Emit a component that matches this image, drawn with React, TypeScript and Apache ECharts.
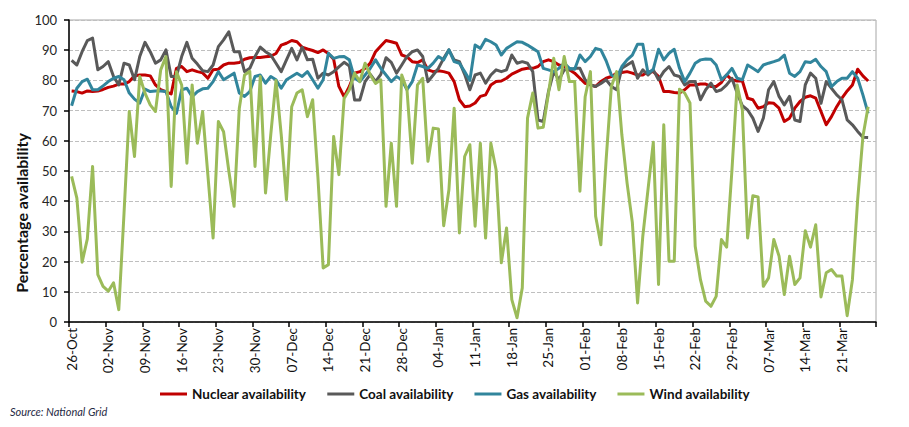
import React, { useEffect, useRef } from "react";
import * as echarts from "echarts";

const START_DATE = "2015-10-26";
const DAY_COUNT = 154;
const MONTHS = ["Jan", "Feb", "Mar", "Apr", "May", "Jun", "Jul", "Aug", "Sep", "Oct", "Nov", "Dec"];

const nuclear = [
  76.5, 76.3, 75.8, 76.5, 76.3, 76.5, 77, 77.7, 78.1, 78.8, 78.8, 79.6, 81.5, 81.8, 81.8, 81.5, 78.5, 76.9, 76.3, 75.5,
  84, 84.6, 82.9, 83.5, 82.9, 82.5, 80.7, 83.5, 83.7, 85.1, 85.7, 85.7, 85.9, 87, 87.5, 87.6, 87.6, 87.8, 88, 88.9,
  91.7, 92.3, 93.2, 92.8, 91, 90.4, 89.9, 89.2, 90.1, 88.9, 87, 78, 74.6, 78, 82.4, 82.9, 84, 85.7, 89.5, 91.4,
  93.2, 92.8, 92.3, 88.4, 87.8, 86.2, 85.9, 86.8, 83.5, 82.9, 83.2, 82.9, 82.4, 79.6, 73.6, 71.3, 71.5, 72.5, 74.7, 75.2,
  78.5, 79.6, 79.8, 80.7, 82.1, 82.9, 83.7, 84, 84, 84.6, 86.2, 86.8, 86.2, 85.1, 84.6, 83.5, 82.4, 80.7, 79, 78.5,
  78, 79.6, 80.7, 81.3, 82.4, 82.6, 82.9, 82.4, 81.8, 81.8, 82.9, 82.9, 81.3, 76.3, 76.3, 76, 75.8, 76.9, 78.5, 78.5,
  78.8, 78.8, 78, 78, 79.3, 81.8, 80.2, 79.8, 79.8, 74.1, 73.6, 70.8, 71.3, 72.6, 72.4, 70.8, 66.4, 67.5, 70.8, 73,
  74.4, 74.9, 74.1, 69.7, 65.3, 68, 71.3, 74.1, 76.5, 78.5, 83.7, 81.5, 79.8, null,
];

const coal = [
  86.6, 85.1, 89.5, 93.2, 94, 83.5, 84.6, 86.2, 81.3, 78.5, 85.7, 85.1, 80.2, 87.9, 92.6, 89.5, 85.7, 86.8, 90.1, 81.3,
  81.3, 87.9, 92.6, 87.3, 85.4, 83.2, 82.9, 85.1, 91.2, 93.4, 96.1, 89.5, 89.5, 82.9, 84, 87.9, 91, 89.5, 88.4, 85.7,
  82.9, 86.8, 90.6, 86.8, 91, 86.8, 87, 80.7, 82.4, 81.8, 82.9, 84.5, 86, 84.8, 73.5, 73.5, 79.6, 82, 79.6, 82,
  87.5, 86, 82.4, 85.1, 87.9, 89.5, 90.1, 87.9, 79.6, 81.8, 84, 87.3, 90.1, 86.8, 86.2, 82, 76.9, 81.8, 82.4, 79.1,
  81.8, 83.5, 82.9, 83.5, 88.4, 85.7, 86.2, 85.7, 82.9, 66.9, 66.4, 76.3, 82.9, 80.2, 83.5, 83.5, 84, 84, 80.2, 78.5,
  78, 79, 80.2, 78, 76.9, 84, 85.1, 86.2, 80.7, 83.5, 81.8, 83.5, 80.2, 82.9, 84.6, 81.8, 81.3, 78.5, 79.6, 79.6,
  73.6, 76.9, 79.1, 76.3, 76.9, 78.5, 80.7, 75.8, 71.6, 70.2, 67.5, 63.1, 67.5, 76.9, 79.6, 74.7, 71.9, 74.7, 66.9, 66.4,
  78.5, 82.4, 80.7, 72.4, 79.6, 77.4, 75.2, 73.6, 66.9, 65.3, 63.1, 61.2, 61.1, null,
];

const gas = [
  71.6, 77.4, 79.6, 80.4, 76.9, 76.9, 78.2, 79.6, 80.7, 81.3, 80.2, 75.8, 73.8, 72.5, 77.1, 76.3, 76.5, 76.5, 76.3, 71.3,
  69.1, 76.9, 77.4, 74.6, 76.3, 77.2, 77.4, 79.6, 82.9, 80.2, 81.3, 82.4, 75.8, 74.7, 76.3, 81.3, 81.8, 79.1, 81.3, 80.2,
  77.4, 80.2, 81.3, 82.4, 81.3, 82.9, 80.2, 77.4, 80.2, 89, 87.3, 87.8, 87.9, 86.8, 80.7, 79.6, 81.8, 84, 86.8, 84,
  81.8, 79.6, 81.3, 80.2, 76.9, 79.6, 85.1, 84.6, 84, 85.7, 87.9, 86.8, 90.1, 86.2, 85.7, 82.9, 80, 91.7, 90.6, 93.6,
  92.8, 91.7, 88.4, 90.6, 91.7, 92.8, 92.6, 91.7, 90.6, 89.5, 84, 83.5, 82.9, 84, 85.7, 84, 83.7, 88.4, 86.2, 87.9,
  90.6, 90.1, 86.5, 81.8, 80.7, 84.6, 86.8, 88.4, 92, 92, 82.4, 83.7, 90.3, 86.8, 89, 90.3, 84, 79.6, 82.4, 85.7,
  86.8, 87.1, 87, 85.1, 80.2, 81.8, 84, 80.7, 80.2, 85.1, 84, 82.9, 85.1, 85.7, 86.2, 86.8, 88.4, 82.4, 81.3, 82.9,
  86.2, 85.9, 87, 84.6, 82.9, 77.9, 79.6, 80.7, 80.7, 82.9, 80.7, 75.2, 69.1, null,
];

const wind = [
  48.2, 41, 19.8, 27.5, 51.5, 15.7, 11.8, 10.2, 13, 4.1, 36, 69.7, 54.8, 81.3, 75.8, 71.9, 69.7, 83.5, 87.9, 44.9,
  82.9, 78.5, 52.6, 78.5, 59.2, 69.7, 48.7, 27.8, 66.4, 63, 50, 38.3, 70.8, 81.8, 83, 51.5, 81.3, 42.7, 62, 80,
  62, 40.5, 71.3, 75.8, 76.9, 68, 73.6, 48, 17.9, 19, 61.4, 48.8, 74, 76.9, 82.4, 79.6, 85.7, 81.8, 79, 80.2,
  38.3, 59.2, 38.3, 81.8, 76.9, 52.6, 78.5, 80.7, 53.2, 64.2, 63.9, 31.9, 43.8, 70.8, 29.5, 54.8, 58.7, 31.7, 59.2, 27.8,
  59.2, 50.4, 19.6, 31.1, 7.4, 1.4, 11.3, 67.5, 75.8, 64.2, 64.5, 75.8, 87.3, 76.9, 87.9, 79.6, 79.6, 43.3, 74.6, 82.9,
  35, 25.6, 53.7, 78, 82.9, 62, 46, 33, 6.3, 28.4, 44, 59.5, 12.4, 65.3, 20.1, 20.1, 77.1, 75.8, 72.5, 25.1,
  14, 6.9, 5.2, 8.5, 27.3, 24.8, 50, 78.5, 70.2, 27.8, 41.8, 41.4, 11.8, 14.6, 27.3, 21.8, 9.1, 21.8, 12.4, 14.6,
  30.2, 24.8, 32.2, 8.3, 16.3, 17.4, 15.2, 15.2, 2.1, 14, 40.5, 61.4, 71.3, null,
];

const SERIES_NAMES = ["Nuclear availability", "Coal availability", "Gas availability", "Wind availability"];
const SERIES_COLORS = ["#C00000", "#595959", "#31859C", "#9BBB59"];
const Y_TITLE = "Percentage availability";
const SOURCE = "Source: National Grid";

function buildDates(): string[] {
  const out: string[] = [];
  const d = new Date(START_DATE + "T12:00:00Z");
  for (let i = 0; i < DAY_COUNT; i++) {
    const dd = String(d.getUTCDate()).padStart(2, "0");
    out.push(dd + "-" + MONTHS[d.getUTCMonth()]);
    d.setUTCDate(d.getUTCDate() + 1);
  }
  return out;
}

const FONT = "Lato, 'Open Sans', sans-serif";

export default function App() {
  const ref = useRef<HTMLDivElement>(null);
  useEffect(() => {
    if (!ref.current) return;
    const chart = echarts.init(ref.current, undefined, { renderer: "svg" });
    const dates = buildDates();
    const dataSets = [nuclear, coal, gas, wind];
    chart.setOption({
      animation: false,
      backgroundColor: "#ffffff",
      textStyle: { fontFamily: FONT },
      grid: {
        left: 69,
        right: 33,
        top: 20,
        bottom: 105,
        show: true,
        borderColor: "#A6A6A6",
        borderWidth: 1,
        containLabel: false,
      },
      legend: {
        left: 155,
        top: 382,
        itemWidth: 27,
        itemHeight: 3,
        itemGap: 21,
        icon: "rect",
        textStyle: { fontFamily: FONT, fontWeight: "bold", fontSize: 13.5, color: "#111" },
        data: SERIES_NAMES,
      },
      xAxis: {
        type: "category",
        data: dates,
        boundaryGap: true,
        axisLine: { show: true, lineStyle: { color: "#000", width: 1.5 } },
        axisTick: {
          show: true,
          length: 5,
          interval: (idx: number) => idx % 7 === 0,
          lineStyle: { color: "#000", width: 1.5 },
        },
        axisLabel: {
          interval: (idx: number) => idx % 7 === 0,
          rotate: 90,
          margin: 6,
          fontSize: 13.5,
          color: "#111",
          fontFamily: FONT,
        },
        splitLine: { show: false },
      },
      yAxis: {
        type: "value",
        min: 0,
        max: 100,
        interval: 10,
        axisLine: { show: true, lineStyle: { color: "#000", width: 1.5 } },
        axisTick: { show: true, length: 5, inside: false, lineStyle: { color: "#000", width: 1.5 } },
        axisLabel: { fontSize: 13, color: "#262626", margin: 12, fontFamily: FONT },
        splitLine: { show: true, lineStyle: { color: "#BFBFBF", type: "dashed", width: 1 } },
      },
      series: SERIES_NAMES.map((name, i) => ({
        name,
        type: "line",
        data: dataSets[i],
        showSymbol: false,
        symbol: "none",
        smooth: false,
        connectNulls: false,
        color: SERIES_COLORS[i],
        lineStyle: { color: SERIES_COLORS[i], width: 3, join: "round" },
        z: 2 + i,
      })),
      graphic: [
        {
          type: "text",
          x: 21,
          y: 213,
          rotation: Math.PI / 2,
          style: {
            text: Y_TITLE,
            fontFamily: FONT,
            fontWeight: "bold",
            fontSize: 16,
            fill: "#111",
            align: "center",
            verticalAlign: "middle",
          },
        },
        {
          type: "text",
          left: 10,
          top: 406,
          style: {
            text: SOURCE,
            fontFamily: FONT,
            fontStyle: "italic",
            fontSize: 11,
            fill: "#1F2A44",
          },
        },
      ],
    });
    return () => chart.dispose();
  }, []);
  return (
    <div
      ref={ref}
      style={{ position: "fixed", left: 0, top: 0, width: 909, height: 427, background: "#fff" }}
    />
  );
}
